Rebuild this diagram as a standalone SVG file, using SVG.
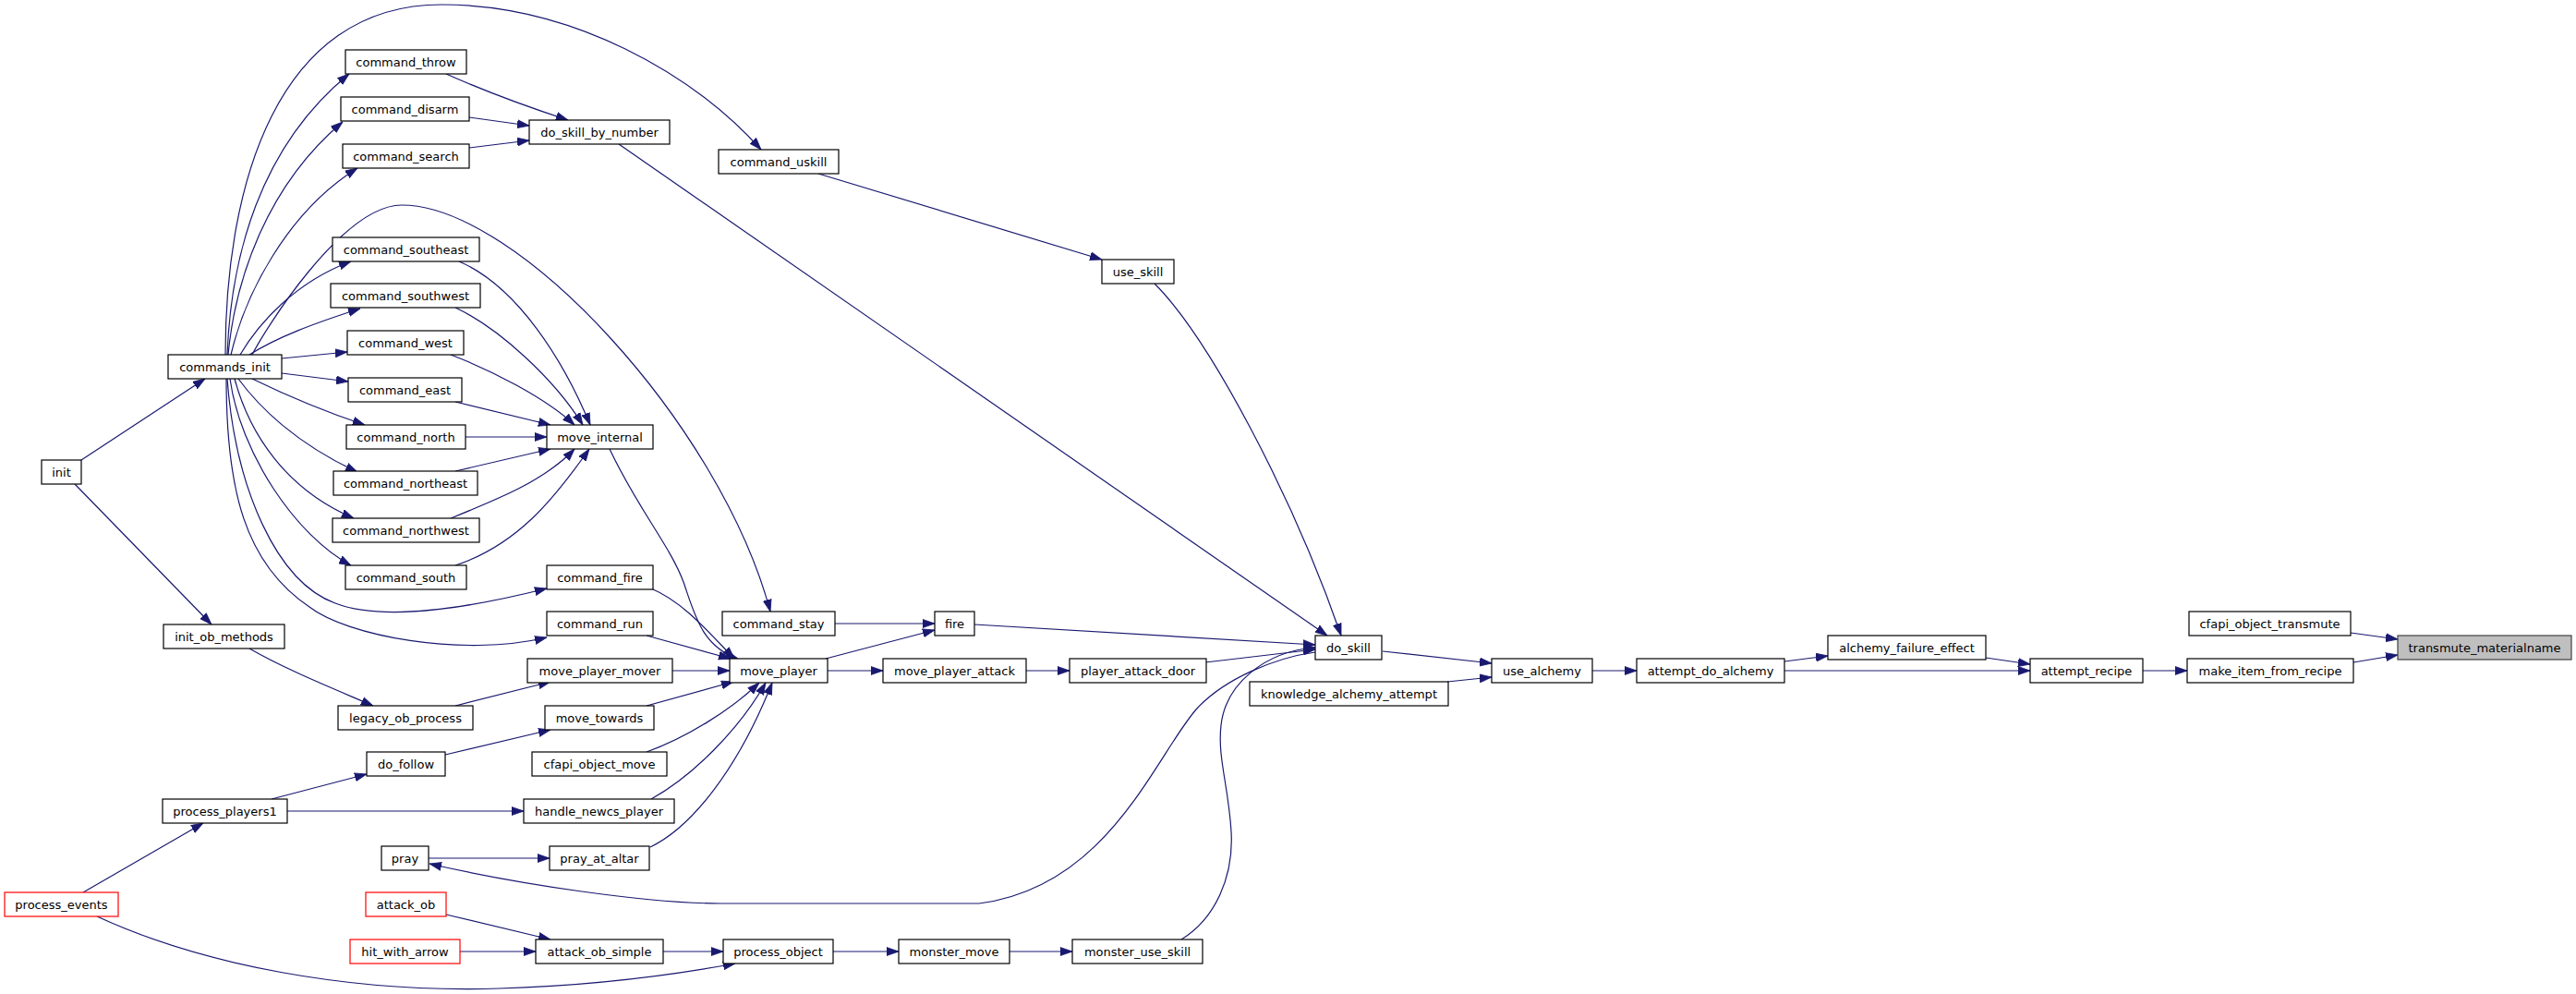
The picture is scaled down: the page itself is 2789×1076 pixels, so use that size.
<svg xmlns="http://www.w3.org/2000/svg" width="2789" height="1076" viewBox="0 0 2789 1076">
<style>
.node rect{fill:#ffffff;stroke:#000000;stroke-width:1.2}
.node.red rect{stroke:#ff0000}
.node.root rect{fill:#bfbfbf;stroke:#404040}
.node text{font-family:"DejaVu Sans","Liberation Sans",sans-serif;font-size:13px;fill:#000000;text-anchor:middle}
.edges path{fill:none;stroke:#191970;stroke-width:1.2;marker-end:url(#arr)}
.edges path.na{marker-end:none}
</style>
<defs>
<marker id="arr" markerUnits="userSpaceOnUse" markerWidth="13" markerHeight="10" viewBox="0 0 13 10" refX="13" refY="5" orient="auto">
<path d="M0,0.5 L13,5 L0,9.5 Z" fill="#191970" stroke="#191970" stroke-width="0.8"/>
</marker>
</defs>
<rect width="2789" height="1076" fill="#ffffff"/>
<g class="edges" id="edges">
<!-- right side -->
<path d="M2545,685 L2596,692"/>
<path d="M2548,717 L2596,709"/>
<path d="M2320,726 L2368,726"/>
<path d="M2150,712 L2198,719"/>
<path d="M1932,726 L2198,726"/>
<path d="M1932,716 L1979,710"/>
<path d="M1724,726 L1772,726"/>
<path d="M1497,705 L1615,718"/>
<path d="M1567,738 L1615,733"/>
<!-- into do_skill -->
<path d="M1250,307 C1310,367 1400,538 1452,688"/>
<path d="M670,156 L1437,688"/>
<path d="M1055,676 L1424,698"/>
<path d="M1305,717 L1424,703"/>
<path d="M1279,1017 C1315,995 1336,950 1333,900 C1330,850 1318,820 1322,785 C1327,740 1370,705 1424,701"/>
<!-- do_skill to pray -->
<path d="M1424,706 C1380,712 1325,735 1295,768 C1250,820 1200,960 1060,978 L780,978 C700,978 560,957 465,935"/>
<!-- bottom chain -->
<path d="M1093,1030 L1161,1030"/>
<path d="M902,1030 L973,1030"/>
<path d="M718,1030 L783,1030"/>
<path d="M498,1030 L580,1030"/>
<path d="M483,990 L596,1017"/>
<path d="M105,992 C220,1045 380,1075 540,1070 C640,1067 720,1057 796,1043"/>
<path d="M90,966 L220,891"/>
<path d="M294,865 L397,838"/>
<path d="M311,878 L567,878"/>
<path d="M482,817 L596,790"/>
<path d="M493,764 L596,738"/>
<path d="M270,702 C310,725 360,745 404,764"/>
<path d="M81,524 L229,676"/>
<path d="M88,498 L222,410"/>
<path d="M464,929 L595,929"/>
<!-- into move_player -->
<path d="M728,726 L790,726"/>
<path d="M700,764 L794,738"/>
<path d="M700,814 C740,800 790,770 822,739"/>
<path d="M705,865 C750,840 800,790 829,739"/>
<path d="M704,917 C750,895 800,830 836,739"/>
<path d="M660,486 C690,550 725,590 740,630 C752,665 760,700 799,713"/>
<path d="M705,637 C740,652 765,682 795,713"/>
<path d="M700,688 L791,713"/>
<path d="M894,713 L1012,682"/>
<path d="M904,675 L1012,675"/>
<path d="M896,726 L956,726"/>
<path d="M1111,726 L1158,726"/>
<!-- commands_init arcs -->
<path d="M244,384 C244,200 300,5 478,5 C620,5 750,80 824,162"/>
<path d="M273,384 C285,360 370,222 435,222 C560,222 780,460 834,662"/>
<!-- commands_init fan -->
<path d="M246,384 C250,280 280,160 378,80"/>
<path d="M247,384 C255,300 290,200 371,132"/>
<path d="M250,384 C265,320 310,230 387,182"/>
<path d="M260,384 C280,350 320,305 380,283"/>
<path d="M270,384 C300,365 340,350 390,334"/>
<path d="M305,388 L376,381"/>
<path d="M305,404 L377,413"/>
<path d="M273,410 C310,428 350,445 395,460"/>
<path d="M258,410 C280,440 320,480 387,511"/>
<path d="M254,410 C270,470 310,530 383,561"/>
<path d="M249,410 C260,490 320,580 380,612"/>
<path d="M246,410 C255,530 300,630 363,653 C420,675 520,655 592,637"/>
<path d="M245,410 C245,530 265,610 335,657 C375,688 500,712 592,690"/>
<!-- to do_skill_by_number -->
<path d="M483,80 C510,92 560,112 615,130"/>
<path d="M508,127 L573,136"/>
<path d="M508,160 L573,152"/>
<!-- to use_skill -->
<path d="M886,188 L1193,281"/>
<!-- to move_internal -->
<path d="M497,283 C560,310 610,390 639,460"/>
<path d="M493,333 C540,355 600,410 631,460"/>
<path d="M488,384 C530,400 590,430 622,460"/>
<path d="M493,435 L596,460"/>
<path d="M504,473 L592,473"/>
<path d="M493,510 L596,486"/>
<path d="M488,561 C540,540 590,520 622,486"/>
<path d="M493,612 C560,590 600,540 638,486"/>
</g>
<g class="node" id="command_throw"><rect x="374" y="54" width="131" height="26"/><text x="439.5" y="71.7">command_throw</text></g>
<g class="node" id="command_disarm"><rect x="369" y="105" width="139" height="26"/><text x="438.5" y="122.7">command_disarm</text></g>
<g class="node" id="command_search"><rect x="371" y="156" width="137" height="26"/><text x="439.5" y="173.7">command_search</text></g>
<g class="node" id="do_skill_by_number"><rect x="573" y="130" width="152" height="26"/><text x="649" y="147.7">do_skill_by_number</text></g>
<g class="node" id="command_uskill"><rect x="778" y="162" width="130" height="26"/><text x="843" y="179.7">command_uskill</text></g>
<g class="node" id="command_southeast"><rect x="360" y="257" width="159" height="26"/><text x="439.5" y="274.7">command_southeast</text></g>
<g class="node" id="use_skill"><rect x="1193" y="281" width="78" height="26"/><text x="1232" y="298.7">use_skill</text></g>
<g class="node" id="command_southwest"><rect x="358" y="307" width="162" height="26"/><text x="439" y="324.7">command_southwest</text></g>
<g class="node" id="command_west"><rect x="376" y="358" width="126" height="26"/><text x="439" y="375.7">command_west</text></g>
<g class="node" id="commands_init"><rect x="182" y="384" width="123" height="26"/><text x="243.5" y="401.7">commands_init</text></g>
<g class="node" id="command_east"><rect x="377" y="409" width="123" height="26"/><text x="438.5" y="426.7">command_east</text></g>
<g class="node" id="command_north"><rect x="375" y="460" width="129" height="26"/><text x="439.5" y="477.7">command_north</text></g>
<g class="node" id="move_internal"><rect x="592" y="460" width="115" height="26"/><text x="649.5" y="477.7">move_internal</text></g>
<g class="node" id="init"><rect x="45" y="498" width="43" height="26"/><text x="66.5" y="515.7">init</text></g>
<g class="node" id="command_northeast"><rect x="361" y="510" width="156" height="26"/><text x="439" y="527.7">command_northeast</text></g>
<g class="node" id="command_northwest"><rect x="360" y="561" width="159" height="26"/><text x="439.5" y="578.7">command_northwest</text></g>
<g class="node" id="command_south"><rect x="374" y="612" width="131" height="26"/><text x="439.5" y="629.7">command_south</text></g>
<g class="node" id="command_fire"><rect x="592" y="612" width="115" height="26"/><text x="649.5" y="629.7">command_fire</text></g>
<g class="node" id="command_run"><rect x="592" y="662" width="115" height="26"/><text x="649.5" y="679.7">command_run</text></g>
<g class="node" id="command_stay"><rect x="782" y="662" width="122" height="26"/><text x="843" y="679.7">command_stay</text></g>
<g class="node" id="fire"><rect x="1012" y="662" width="43" height="26"/><text x="1033.5" y="679.7">fire</text></g>
<g class="node" id="init_ob_methods"><rect x="177" y="676" width="131" height="26"/><text x="242.5" y="693.7">init_ob_methods</text></g>
<g class="node" id="cfapi_object_transmute"><rect x="2370" y="662" width="175" height="26"/><text x="2457.5" y="679.7">cfapi_object_transmute</text></g>
<g class="node" id="do_skill"><rect x="1424" y="688" width="72" height="26"/><text x="1460" y="705.7">do_skill</text></g>
<g class="node" id="alchemy_failure_effect"><rect x="1979" y="688" width="171" height="26"/><text x="2064.5" y="705.7">alchemy_failure_effect</text></g>
<g class="node root" id="transmute_materialname"><rect x="2596" y="688" width="188" height="26"/><text x="2690" y="705.7">transmute_materialname</text></g>
<g class="node" id="move_player_mover"><rect x="571" y="713" width="157" height="26"/><text x="649.5" y="730.7">move_player_mover</text></g>
<g class="node" id="move_player"><rect x="790" y="713" width="106" height="26"/><text x="843" y="730.7">move_player</text></g>
<g class="node" id="move_player_attack"><rect x="956" y="713" width="155" height="26"/><text x="1033.5" y="730.7">move_player_attack</text></g>
<g class="node" id="player_attack_door"><rect x="1158" y="713" width="148" height="26"/><text x="1232" y="730.7">player_attack_door</text></g>
<g class="node" id="use_alchemy"><rect x="1615" y="713" width="109" height="26"/><text x="1669.5" y="730.7">use_alchemy</text></g>
<g class="node" id="attempt_do_alchemy"><rect x="1772" y="713" width="160" height="26"/><text x="1852" y="730.7">attempt_do_alchemy</text></g>
<g class="node" id="attempt_recipe"><rect x="2198" y="713" width="122" height="26"/><text x="2259" y="730.7">attempt_recipe</text></g>
<g class="node" id="make_item_from_recipe"><rect x="2368" y="713" width="180" height="26"/><text x="2458" y="730.7">make_item_from_recipe</text></g>
<g class="node" id="knowledge_alchemy_attempt"><rect x="1353" y="738" width="215" height="26"/><text x="1460.5" y="755.7">knowledge_alchemy_attempt</text></g>
<g class="node" id="legacy_ob_process"><rect x="366" y="764" width="146" height="26"/><text x="439" y="781.7">legacy_ob_process</text></g>
<g class="node" id="move_towards"><rect x="590" y="764" width="118" height="26"/><text x="649" y="781.7">move_towards</text></g>
<g class="node" id="do_follow"><rect x="397" y="814" width="85" height="26"/><text x="439.5" y="831.7">do_follow</text></g>
<g class="node" id="cfapi_object_move"><rect x="576" y="814" width="146" height="26"/><text x="649" y="831.7">cfapi_object_move</text></g>
<g class="node" id="process_players1"><rect x="176" y="865" width="135" height="26"/><text x="243.5" y="882.7">process_players1</text></g>
<g class="node" id="handle_newcs_player"><rect x="567" y="865" width="163" height="26"/><text x="648.5" y="882.7">handle_newcs_player</text></g>
<g class="node" id="pray"><rect x="413" y="916" width="51" height="26"/><text x="438.5" y="933.7">pray</text></g>
<g class="node" id="pray_at_altar"><rect x="595" y="916" width="108" height="26"/><text x="649" y="933.7">pray_at_altar</text></g>
<g class="node red" id="process_events"><rect x="5" y="966" width="123" height="26"/><text x="66.5" y="983.7">process_events</text></g>
<g class="node red" id="attack_ob"><rect x="396" y="966" width="87" height="26"/><text x="439.5" y="983.7">attack_ob</text></g>
<g class="node red" id="hit_with_arrow"><rect x="379" y="1017" width="119" height="26"/><text x="438.5" y="1034.7">hit_with_arrow</text></g>
<g class="node" id="attack_ob_simple"><rect x="580" y="1017" width="138" height="26"/><text x="649" y="1034.7">attack_ob_simple</text></g>
<g class="node" id="process_object"><rect x="783" y="1017" width="119" height="26"/><text x="842.5" y="1034.7">process_object</text></g>
<g class="node" id="monster_move"><rect x="973" y="1017" width="120" height="26"/><text x="1033" y="1034.7">monster_move</text></g>
<g class="node" id="monster_use_skill"><rect x="1161" y="1017" width="141" height="26"/><text x="1231.5" y="1034.7">monster_use_skill</text></g>
</svg>
